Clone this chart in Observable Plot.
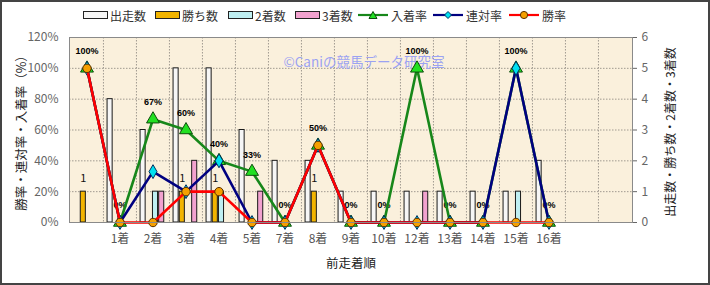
<!DOCTYPE html>
<html><head><meta charset="utf-8">
<script src="https://cdn.jsdelivr.net/npm/d3@7"></script>
<script src="https://cdn.jsdelivr.net/npm/@observablehq/plot@0.6"></script>
<style>
body{margin:0;background:#fff;font-family:"Noto Sans CJK JP","Noto Sans",sans-serif;}
#wrap{position:relative;width:710px;height:285px;overflow:hidden;background:#fff;}
#border{position:absolute;left:0;top:0;width:710px;height:285px;box-sizing:border-box;border:2px solid #444;pointer-events:none;}
#chart{position:absolute;left:0;top:20px;}
.lg{position:absolute;top:7px;height:16px;display:flex;align-items:center;font-size:12px;color:#333;white-space:nowrap;}
.ttl{position:absolute;white-space:nowrap;color:#222;transform:translate(-50%,-50%);}
</style></head>
<body>
<div id="wrap">
  <div id="chart"></div>
  <div id="legend"></div>
  <div class="ttl" style="left:20px;top:130px;font-size:12.5px;transform:translate(-50%,-50%) rotate(-90deg);">勝率・連対率・入着率（%）</div>
  <div class="ttl" style="left:669px;top:132px;font-size:12px;transform:translate(-50%,-50%) rotate(-90deg);">出走数・勝ち数・2着数・3着数</div>
  <div class="ttl" style="left:351px;top:262px;font-size:12.5px;">前走着順</div>
  <div id="border"></div>
</div>
<script>
// ---- data ----
const categories = ["", "1着","2着","3着","4着","5着","7着","8着","9着","10着","12着","13着","14着","15着","16着"];
const padCats = ["pad1","pad2"];
const runs    = [null,4,3,5,5,3,2,2,1,1,1,1,1,1,2];   // 出走数
const wins    = [1,0,0,1,1,0,0,1,0,0,0,0,0,0,0];      // 勝ち数
const seconds = [0,0,1,0,1,0,0,0,0,0,0,0,0,1,0];      // 2着数
const thirds  = [0,0,1,2,0,1,0,0,0,0,1,0,0,0,0];      // 3着数
const placeRate  = [100,0,67,60,40,33,0,50,0,0,100,0,0,100,0]; // 入着率
const rentaiRate = [100,0,33,20,40,0,0,50,0,0,0,0,0,100,0];    // 連対率
const winRate    = [100,0,0,20,20,0,0,50,0,0,0,0,0,0,0];       // 勝率
const pctTicks = [0,20,40,60,80,100,120];
const seriesNames = ["出走数","勝ち数","2着数","3着数","入着率","連対率","勝率"];

// ---- styles ----
const COUNT_TO_PCT = 20;
const barColors = ["#f6f6f6","#f2b400","#bfeff2","#f2a2cf"];
const lineStyles = [
  {stroke:"#17871a", fill:"#22e022", mstroke:"#0c4d0c", symbol:"triangle", r:4.8},
  {stroke:"#000080", fill:"#00e0f0", mstroke:"#003060", symbol:"diamond", r:4.2},
  {stroke:"#ff0000", fill:"#f5a000", mstroke:"#5a3000", symbol:"circle", r:4.2}
];

const rows = categories.map((c,i)=>({cat:c, runs:runs[i], wins:wins[i], seconds:seconds[i], thirds:thirds[i],
  place:placeRate[i], rentai:rentaiRate[i], win:winRate[i]}));

// ---- legend ----
const legendLeft = [83,155,228,295,357,432,508];
const legend = document.getElementById("legend");
seriesNames.forEach((name,i)=>{
  const d = document.createElement("div");
  d.className = "lg";
  d.style.left = legendLeft[i] + "px";
  let sw;
  if (i < 4) {
    sw = `<svg width="26" height="10"><rect x="0.5" y="1.5" width="24" height="7" fill="${barColors[i]}" stroke="#222"/></svg>`;
  } else {
    const s = lineStyles[i-4];
    let mk;
    if (s.symbol==="triangle") mk = `<path d="M16,1.5 L20,8.5 L12,8.5Z" fill="${s.fill}" stroke="${s.mstroke}"/>`;
    else if (s.symbol==="diamond") mk = `<path d="M16,1.5 L19.5,5 L16,8.5 L12.5,5Z" fill="${s.fill}" stroke="${s.mstroke}"/>`;
    else mk = `<circle cx="16" cy="5" r="3.6" fill="${s.fill}" stroke="${s.mstroke}"/>`;
    sw = `<svg width="33" height="10"><line x1="1" x2="31" y1="5" y2="5" stroke="${s.stroke}" stroke-width="2.2"/>${mk}</svg>`;
  }
  d.innerHTML = sw + `<span style="margin-left:1px">${name}</span>`;
  legend.appendChild(d);
});

// ---- chart ----
const W = 710, H = 263, ML = 69, MR = 78, MT = 17, MB = 61;
const domainX = [...categories, ...padCats];
const bw = (W - ML - MR) / domainX.length;
const barW = 5.2, slot = 6.2, start = -12.5;
const inset = i => {
  const left = bw/2 + start + slot*i;
  return {insetLeft: left, insetRight: bw - left - barW};
};
const barKeys = ["runs","wins","seconds","thirds"];
const barMarks = barKeys.map((k,i)=>Plot.barY(rows.filter(d=>d[k]!=null && d[k]>0), {
  x:"cat", y: d=>d[k]*COUNT_TO_PCT, fill: barColors[i], stroke:"#1a1a1a", strokeWidth:1, ...inset(i)
}));
const rateKeys = ["place","rentai","win"];
const lineMarks = rateKeys.flatMap((k,i)=>[
  Plot.line(rows, {x:"cat", y:k, stroke: lineStyles[i].stroke, strokeWidth:2.6}),
  Plot.dot(rows, {x:"cat", y:k, symbol: lineStyles[i].symbol, r: lineStyles[i].r, fill: lineStyles[i].fill, stroke: lineStyles[i].mstroke, strokeWidth:1})
]);

const chart = Plot.plot({
  width: W, height: H, marginLeft: ML, marginRight: MR, marginTop: MT, marginBottom: MB,
  style: {fontFamily: "'Noto Sans CJK JP', sans-serif", fontSize: "12px", background: "transparent", color:"#555"},
  x: {type:"band", domain: domainX, paddingInner:0, paddingOuter:0, axis:null},
  y: {domain:[0,120], axis:null},
  marks: [
    Plot.frame({fill:"#faf0dc", stroke:null}),
    Plot.ruleY(pctTicks.slice(1,-1), {stroke:"#a09a90", strokeDasharray:"1.5,1.5", strokeWidth:1}),
    Plot.ruleX(domainX.slice(1), {x: d=>d, dx: -bw/2, stroke:"#a09a90", strokeDasharray:"1.5,1.5", strokeWidth:1}),
    ...barMarks,
    Plot.text(["©Caniの競馬データ研究室"], {frameAnchor:"top-left", dx:214, dy:20, fill:"#9ba2f2", fontSize:13.5, textAnchor:"start"}),
    Plot.text(rows, {x:"cat", y:"place", text: d=>d.place+"%", dy:-17, fontSize:9, fontWeight:"bold", fill:"#000", fontFamily:"'Liberation Sans', sans-serif"}),
    Plot.text(rows.filter(d=>d.wins>0), {x:"cat", y: d=>d.wins*COUNT_TO_PCT, text: d=>String(d.wins), dx: start+slot+barW/2, dy:-13, fontSize:11, fill:"#111"}),
    ...lineMarks,
    Plot.axisX({tickSize:0, tickPadding:12, tickFormat: d => padCats.includes(d) ? "" : d, label:null, fill:"#555"}),
    Plot.axisY({anchor:"left", ticks: pctTicks, tickFormat: d=>d+"%", tickSize:0, tickPadding:11, label:null, fill:"#666"}),
    Plot.axisY({anchor:"right", ticks: pctTicks, tickFormat: d=>String(d/COUNT_TO_PCT), tickSize:4, tickPadding:5, label:null, fill:"#666", stroke:"#666"}),
    Plot.frame({stroke:"#8a8a8a", strokeWidth:1})
  ]
});
document.getElementById("chart").appendChild(chart);
</script>
</body></html>
